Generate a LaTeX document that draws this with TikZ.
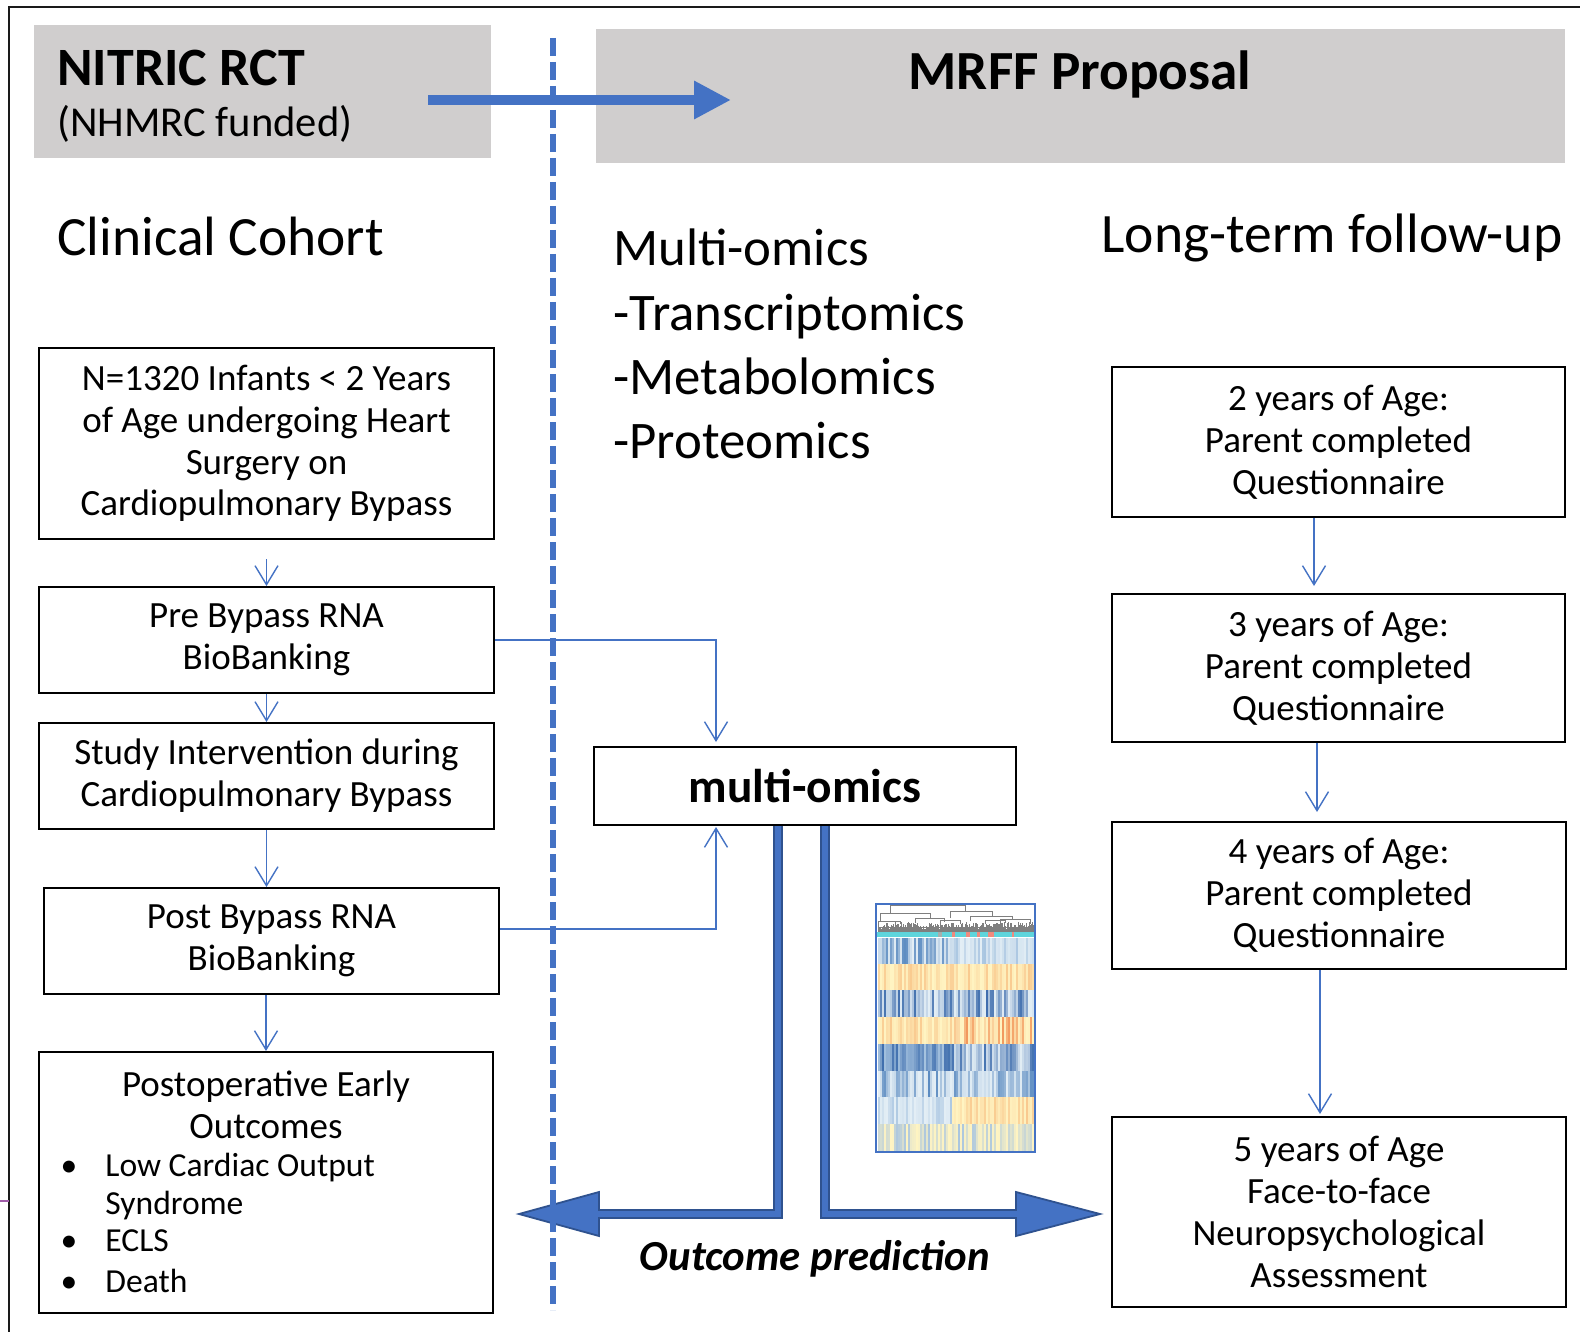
\documentclass[tikz,border=0pt]{standalone}
\usepackage{fontspec}
\setmainfont{Carlito}
\usetikzlibrary{arrows.meta}

\definecolor{hdrgray}{HTML}{D0CECE}
\definecolor{accent}{HTML}{4472C4}
\definecolor{accentdark}{HTML}{2F528F}
\definecolor{frameline}{HTML}{1A1A1A}
\definecolor{tickpurple}{HTML}{A05CA8}
\definecolor{hmBlue}{HTML}{5A8AC0}
\definecolor{hmDark}{HTML}{3E6DAD}
\definecolor{hmMid}{HTML}{A7C4E0}
\definecolor{hmLight}{HTML}{E3EEF5}
\definecolor{hmPale}{HTML}{FFF4C2}
\definecolor{hmOrangeL}{HTML}{F9C98E}
\definecolor{hmOrange}{HTML}{F2985C}
\definecolor{hmCyan}{HTML}{5ED5DC}
\definecolor{hmSalmon}{HTML}{F08A7E}
\definecolor{dendro}{HTML}{7F7F7F}

\newcommand\bxfont{\fontsize{18.5}{20.9}\selectfont}
\newcommand\lstfont{\fontsize{16.8}{19}\selectfont}
\newcommand\omicsfont{\fontsize{26.4}{32}\selectfont}

\begin{document}
\begin{tikzpicture}[x=0.5pt,y=-0.5pt,
  hdr/.style={fill=hdrgray, draw=none, inner sep=0pt},
  box/.style={draw=black, line width=1pt, fill=white, inner sep=0pt, align=center, font=\bxfont},
  lbl/.style={inner sep=0pt, anchor=base west},
  flow/.style={draw=accent, line width=0.7pt, -{Straight Barb[length=9.5pt,width=11.5pt]}},
  bigarrow/.style={fill=accent, draw=accentdark, line width=0.9pt, line join=miter},
]
\useasboundingbox (0,0) rectangle (1580,1332);
\fill[white] (0,0) rectangle (1580,1332);

% outer frame: top and left edges
\draw[frameline, line width=1.3pt] (8,7) -- (1580,7);
\draw[frameline, line width=1.3pt] (9,7) -- (9,1332);
\draw[tickpurple, line width=0.6pt] (0,1201) -- (9,1201);

% header bands
\node[hdr, minimum width=228.5pt, minimum height=66.5pt] (G1) at (262.5,91.5) {};
\node[hdr, minimum width=484.5pt, minimum height=67pt] (G2) at (1080.5,96) {};
\node[lbl, font=\bfseries\fontsize{27}{32}\selectfont] (nitric) at (57,86) {NITRIC RCT};
\node[lbl, font=\fontsize{21.3}{26}\selectfont] (nhmrc) at (57,137) {(NHMRC funded)};
\node[inner sep=0pt, anchor=base, font=\bfseries\fontsize{27.6}{32}\selectfont] (mrff) at (1080,90) {MRFF Proposal};
\coordinate (hdrA) at (428,100);
\coordinate (hdrB) at (731,100);
\draw[accent, line width=5pt, -{Triangle[length=18.5pt,width=18pt]}] (hdrA) -- (hdrB);

% column titles
\node[lbl, font=\fontsize{27.7}{33}\selectfont] (cc) at (57,256) {Clinical Cohort};
\node[lbl, font=\fontsize{27.8}{33}\selectfont] (ltf) at (1101,253) {Long-term follow-up};
\node[lbl, font=\omicsfont] (om1) at (613,266) {Multi-omics};
\node[lbl, font=\omicsfont] (om2) at (613,330) {-Transcriptomics};
\node[lbl, font=\omicsfont] (om3) at (613,394) {-Metabolomics};
\node[lbl, font=\omicsfont] (om4) at (613,458) {-Proteomics};

% clinical cohort column
\node[box, minimum width=227.5pt, minimum height=95.5pt] (B1) at (266.5,443.5)
  {N=1320 Infants {<} 2 Years\\of Age undergoing Heart\\Surgery on\\Cardiopulmonary Bypass};
\node[box, minimum width=227.5pt, minimum height=53pt] (B2) at (266.5,640)
  {Pre Bypass RNA\\BioBanking};
\node[box, minimum width=227.5pt, minimum height=53pt] (B3) at (266.5,776)
  {Study Intervention during\\Cardiopulmonary Bypass};
\node[box, minimum width=227.5pt, minimum height=53pt] (B4) at (271.5,941)
  {Post Bypass RNA\\BioBanking};
\node[box, minimum width=227pt, minimum height=130.5pt] (B5) at (266,1182.5) {};
\node[inner sep=0pt, anchor=base, font=\bxfont] (B5a) at (266,1096) {Postoperative Early};
\node[inner sep=0pt, anchor=base, font=\bxfont] (B5b) at (266,1138) {Outcomes};
\node[inner sep=0pt, anchor=base, font=\lstfont] (d1) at (69,1176) {•};
\node[inner sep=0pt, anchor=base, font=\lstfont] (d2) at (69,1251) {•};
\node[inner sep=0pt, anchor=base, font=\lstfont] (d3) at (69,1292) {•};
\node[lbl, font=\lstfont] (i1) at (105,1176) {Low Cardiac Output};
\node[lbl, font=\lstfont] (i1b) at (105,1214) {Syndrome};
\node[lbl, font=\lstfont] (i2) at (105,1251) {ECLS};
\node[lbl, font=\lstfont] (i3) at (105,1292) {Death};

\draw[flow] ([yshift=-9.5pt]B1.south) -- (B2.north);
\draw[flow] (B2.south) -- (B3.north);
\draw[flow] (B3.south) -- (B3.south |- B4.north);
\draw[flow] (B5.north |- B4.south) -- (B5.north);

% long-term follow-up column
\node[box, minimum width=226.5pt, minimum height=75pt] (R1) at (1338.5,442)
  {2 years of Age:\\Parent completed\\Questionnaire};
\node[box, minimum width=226.5pt, minimum height=74pt] (R2) at (1338.5,668)
  {3 years of Age:\\Parent completed\\Questionnaire};
\node[box, minimum width=227pt, minimum height=73.5pt] (R3) at (1339,895.5)
  {4 years of Age:\\Parent completed\\Questionnaire};
\node[box, minimum width=227pt, minimum height=95pt] (R4) at (1339,1212)
  {5 years of Age\\Face-to-face\\Neuropsychological\\Assessment};

\draw[flow] ([xshift=-12.25pt]R1.south) -- ([xshift=-12.25pt,yshift=3.5pt]R2.north);
\draw[flow] ([xshift=-10.75pt]R2.south) -- ([xshift=-11pt,yshift=4.5pt]R3.north);
\draw[flow] ([xshift=-9.5pt]R3.south) -- ([xshift=-9.5pt,yshift=1pt]R4.north);

% outcome prediction arrows leaving the multi-omics box
\draw[bigarrow] (774,825) -- (782,825) -- (782,1218) -- (599,1218) -- (599,1236)
  -- (519,1214) -- (599,1192) -- (599,1210) -- (774,1210) -- cycle;
\draw[bigarrow] (821,825) -- (829,825) -- (829,1210) -- (1016,1210) -- (1016,1192)
  -- (1100,1214) -- (1016,1236) -- (1016,1218) -- (821,1218) -- cycle;
\node[inner sep=0pt, anchor=base, font=\bfseries\itshape\fontsize{21.4}{26}\selectfont]
  (outc) at (815,1270) {Outcome prediction};

% multi-omics hub
\node[box, minimum width=211pt, minimum height=39pt, font=\bfseries\fontsize{23.7}{28}\selectfont]
  (MO) at (805,786) {multi-omics};
\draw[flow] (B2.east) -| ([xshift=-44.5pt,yshift=2pt]MO.north);
\draw[flow] ([yshift=6pt]B4.east) -| ([xshift=-44.5pt,yshift=-0.5pt]MO.south);

% heat map with dendrogram
\begin{scope}
  \pgfmathsetseed{2718}
  \foreach \ytop/\la/\lb/\ra/\rb/\ex in {
    938/hmBlue/hmLight/hmMid/hmLight/1.3,
    964/hmOrangeL/hmPale/hmOrangeL/hmPale/1.6,
    990/hmDark/hmLight/hmDark/hmLight/1.3,
    1017/hmOrangeL/hmPale/hmOrange/hmPale/1.6,
    1044/hmDark/hmMid/hmDark/hmLight/1.2,
    1071/hmBlue/hmLight/hmBlue/hmLight/1.5,
    1097/hmMid/hmLight/hmOrangeL/hmPale/1.5,
    1124/hmMid/hmPale/hmMid/hmPale/2}
  {
    \foreach \k in {0,...,77}{
      \pgfmathtruncatemacro\p{100*rnd^\ex}
      \pgfmathsetmacro\xx{878+2*\k}
      \ifdim\xx pt<952pt
        \colorlet{stripe}{\la!\p!\lb}
      \else
        \colorlet{stripe}{\ra!\p!\rb}
      \fi
      \fill[stripe] (\xx,\ytop) rectangle ++(2.2,27);
    }
  }
  % sample annotation bar
  \fill[hmCyan] (877,932) rectangle (1034,937);
  \foreach \a/\b in {952/955, 966/970, 977/980, 988/994, 1012/1014}
    \fill[hmSalmon] (\a,932) rectangle (\b,937);
  \fill[hmSalmon!50!hmCyan] (938,932) rectangle (942,937);
  % dendrogram
  \begin{scope}[dendro, line width=0.4pt]
    \draw (890,913) -- (890,905) -- (965,905) -- (965,911);
    \draw (880,921) -- (880,913) -- (930,913) -- (930,918);
    \draw (950,918) -- (950,911) -- (992,911) -- (992,916);
    \draw (970,921) -- (970,916) -- (1012,916) -- (1012,920);
    \draw (915,923) -- (915,918) -- (944,918) -- (944,922);
    \draw (878,925) -- (878,921) -- (900,921) -- (900,924);
    \draw (940,924) -- (940,920) -- (960,920) -- (960,924);
    \draw (985,924) -- (985,920) -- (1005,920) -- (1005,923);
    \draw (1000,923) -- (1000,919) -- (1030,919) -- (1030,924);
    \foreach \k in {0,...,155}{
      \pgfmathsetmacro\lh{3+7*rnd}
      \draw[line width=0.3pt] (878+\k,932) -- ++(0,-\lh);
    }
    \draw[line width=0.5pt] (878,927) -- (1033,927);
  \end{scope}
  \node[draw=accent, line width=1.3pt, inner sep=0pt, minimum width=79.5pt, minimum height=124pt]
    (heat) at (955.5,1028) {};
\end{scope}

% dashed separator between the funded trial and the proposal
\draw[accent, line width=2.8pt, dash pattern=on 9pt off 3pt] (553,38) -- (553,1310);
\end{tikzpicture}
\end{document}
